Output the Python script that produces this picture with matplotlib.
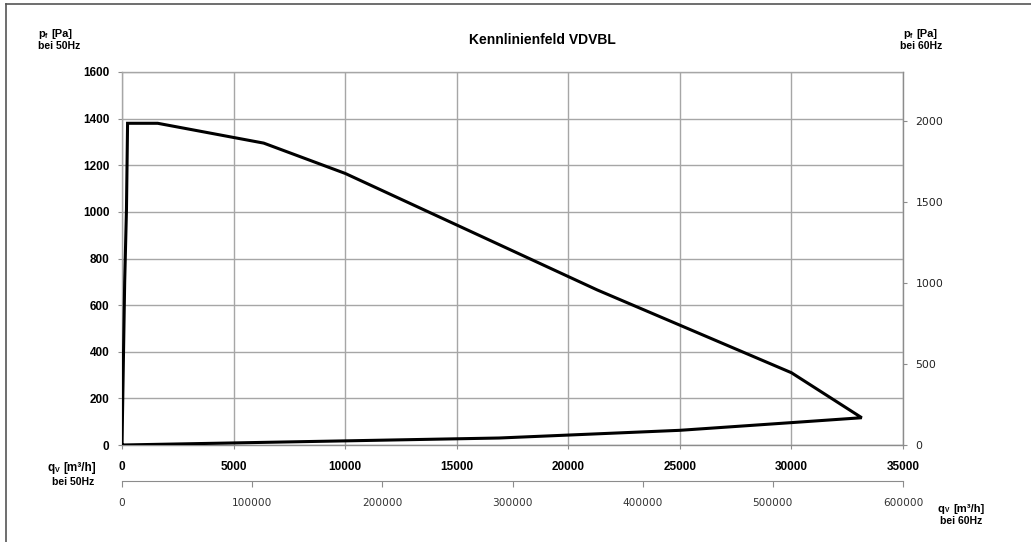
import matplotlib
matplotlib.use("Agg")
import matplotlib.pyplot as plt
from matplotlib.lines import Line2D
from matplotlib.font_manager import FontProperties

# Characteristic field outline (q_V at 50 Hz [m3/h], p_f at 50 Hz [Pa])
q_values = [0, 120, 200, 250, 1600, 6350, 10000, 21300, 30000, 33150, 30000, 25000, 16900, 0]
p_values = [0, 700, 1010, 1380, 1380, 1295, 1165, 665, 310, 117, 96, 63, 30, 0]

x_ticks_50 = [0, 5000, 10000, 15000, 20000, 25000, 30000, 35000]
y_ticks_50 = [0, 200, 400, 600, 800, 1000, 1200, 1400, 1600]
y_ticks_60 = [0, 500, 1000, 1500, 2000]
x_ticks_60 = [0, 100000, 200000, 300000, 400000, 500000, 600000]

title = "Kennlinienfeld VDVBL"

W, H = 1031, 542
fig = plt.figure(figsize=(W / 100, H / 100), dpi=100)
bold = dict(family="Liberation Sans", weight="bold")

ax = fig.add_axes([122 / W, 1 - 445 / H, (903 - 122) / W, (445 - 72) / H])
ax.plot(q_values, p_values, color="black", lw=2.2, solid_joinstyle="miter", zorder=3)
ax.set_xlim(0, 35000)
ax.set_ylim(0, 1600)
ax.set_xticks(x_ticks_50)
ax.set_yticks(y_ticks_50)
ax.grid(True, color="#a6a6a6", lw=1.0)
ax.set_axisbelow(True)
for s in ax.spines.values():
    s.set_color("#a6a6a6")
    s.set_linewidth(1.0)
ax.spines["bottom"].set_color("#8c8c8c")
ax.tick_params(axis="x", length=3, color="#8c8c8c", pad=8.5)
ax.tick_params(axis="y", length=3, color="#8c8c8c", pad=6)
fp_bold_tick = FontProperties(family="Liberation Sans", weight="bold", size=8.5)
for lab in ax.get_xticklabels() + ax.get_yticklabels():
    lab.set_fontproperties(fp_bold_tick)

# right axis (60 Hz pressure)
ax2 = ax.twinx()
ax2.set_ylim(0, 1600 * 1.44)
ax2.set_yticks(y_ticks_60)
ax2.tick_params(axis="y", length=3, color="#8c8c8c", pad=6, labelsize=7.8, labelcolor="#222222")
for s in ax2.spines.values():
    s.set_visible(False)
ax2.spines["right"].set_visible(True)
ax2.spines["right"].set_color("#8c8c8c")
for lab in ax2.get_yticklabels():
    lab.set_family("DejaVu Sans")

# secondary bottom axis (60 Hz flow)
fac = 600000 / 35000
sec = ax.secondary_xaxis((445 - 481) / (445 - 72), functions=(lambda x: x * fac, lambda x: x / fac))
sec.set_xticks(x_ticks_60)
sec.spines["bottom"].set_color("#8c8c8c")
sec.tick_params(axis="x", length=4, color="#8c8c8c", pad=8, labelsize=7.6, labelcolor="#333333")
for lab in sec.get_xticklabels():
    lab.set_family("DejaVu Sans")

# title
fig.text(542 / W, 1 - 40 / H, title, ha="center", va="center", fontsize=10, **bold)

def unit_label(x, y, main, sub, rest, size=8.0):
    t1 = fig.text(x / W, 1 - y / H, main, ha="left", va="center", fontsize=size, **bold)
    fig.canvas.draw()
    bb = t1.get_window_extent()
    t2 = fig.text(bb.x1 / W, 1 - (y + 2) / H, sub, ha="left", va="center", fontsize=size * 0.6, **bold)
    fig.canvas.draw()
    bb2 = t2.get_window_extent()
    fig.text(bb2.x1 / W + 4 / W, 1 - y / H, rest, ha="left", va="center", fontsize=size, **bold)
    return t1

def second_line(xc, y, s, size=7.5):
    fig.text(xc / W, 1 - y / H, s, ha="center", va="center", fontsize=size, **bold)

unit_label(38, 34, "p", "f", "[Pa]")
second_line(59, 46, "bei 50Hz")
unit_label(903, 34, "p", "f", "[Pa]")
second_line(921, 46, "bei 60Hz")
unit_label(48, 468, "q", "V", "[m³/h]", size=8.5)
second_line(73, 482, "bei 50Hz")
unit_label(938, 509, "q", "V", "[m³/h]")
second_line(961, 521, "bei 60Hz")

# chart area border (left and top visible)
fig.add_artist(Line2D([6 / W, 6 / W], [0, 1 - 4 / H], transform=fig.transFigure, color="#555555", lw=1.2))
fig.add_artist(Line2D([6 / W, 1], [1 - 4 / H, 1 - 4 / H], transform=fig.transFigure, color="#555555", lw=1.2))

fig.savefig("out.png", dpi=100)
